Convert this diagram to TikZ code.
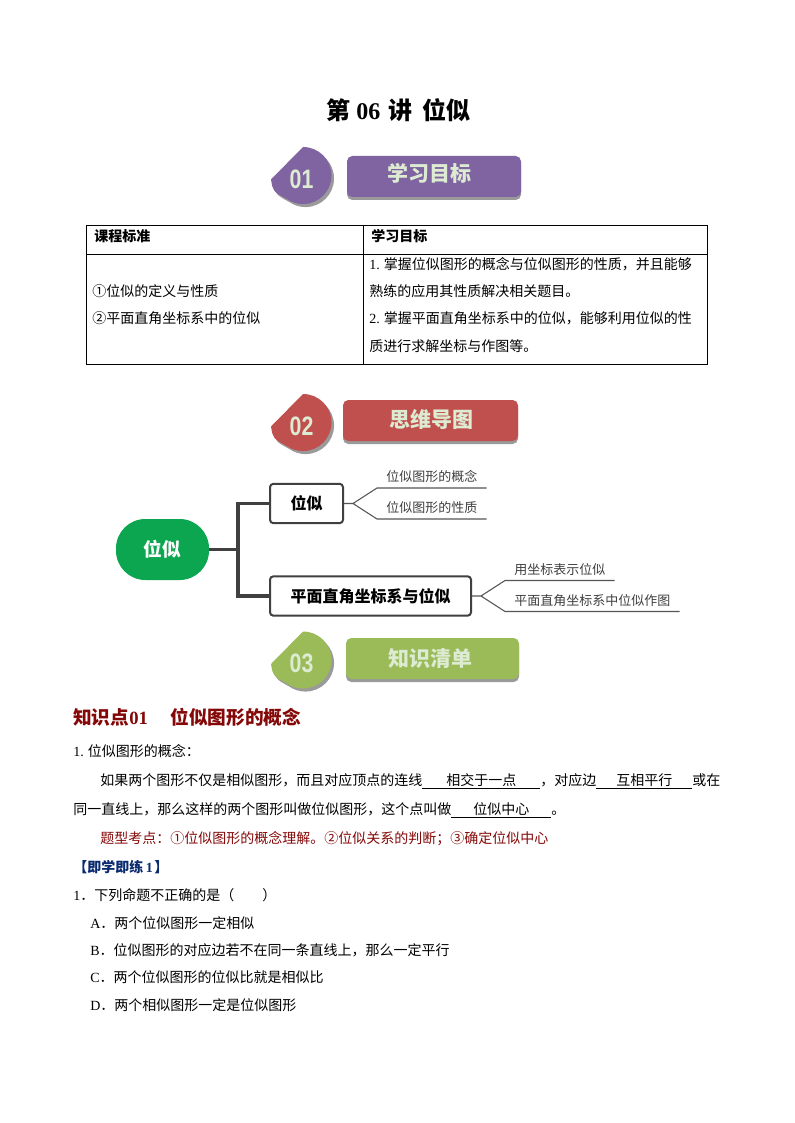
\documentclass[tikz,border=0pt]{standalone}
\usepackage{fontspec}
\setmainfont{Noto Sans CJK SC}
\newfontfamily\latinfont{Liberation Serif}
\newfontfamily\badgefont{Liberation Sans}
\usetikzlibrary{positioning}
\definecolor{purplehead}{HTML}{8064A2}
\definecolor{redhead}{HTML}{C0504D}
\definecolor{greenhead}{HTML}{9BBB59}
\definecolor{headtext}{HTML}{DCEBD2}
\definecolor{shadowgray}{HTML}{9A9A9A}
\definecolor{mapgreen}{HTML}{0CA650}
\definecolor{mapline}{HTML}{404040}
\definecolor{leafline}{HTML}{555555}
\definecolor{darkred}{HTML}{850808}
\definecolor{darkblue}{HTML}{0A2A70}
\newcommand\blankfill[2]{\underline{\makebox[#1]{#2}}}
\newcommand\fsize[1]{\fontsize{#1}{#1}\selectfont}
\tikzset{
	line/.style={anchor=base west,inner sep=0pt,font=\fsize{10.5pt}},
	mapbox/.style={draw=mapline,line width=1.5pt,fill=white,rounded corners=2.5pt,minimum height=29.5pt,inner xsep=13.5pt,font=\fsize{12pt}\bfseries},
	leaf/.style={anchor=south west,inner xsep=6.75pt,inner ysep=3pt,text height=8.5pt,text depth=1.5pt,text=black!75,font=\fsize{9.75pt}},
	trunk/.style={draw=mapline,line width=2.4pt},
	twig/.style={draw=leafline,line width=.8pt},
	badge/.pic={
		\fill (0,-28.5) arc [start angle=90,end angle=-125,radius=21.4pt] .. controls (-30,16) .. (-32,4) -- cycle;
	}
}
\begin{document}
\begin{tikzpicture}[x=.75pt,y=-.75pt]
	\useasboundingbox [fill=white] (0,0) rectangle (794,1123);
	\node [line,font=\fsize{18pt}\bfseries] (title) at (326,120) {第\hspace{4.5pt}{\latinfont 06}\hspace{6pt}讲\hspace{7.5pt}位似};

	\foreach \tag/\col/\cy/\left/\right/\top/\tx/\ty/\words in {
		01/purplehead/175.5/347/521/156/429/173.5/学习目标,
		02/redhead/422.5/343/518/400/431.5/419.5/思维导图,
		03/greenhead/660/346/519/638/430/659/知识清单}
	{
		\pic [shadowgray] at (305.5,\cy+3) {badge};
		\pic [\col] at (303,\cy) {badge};
		\node [inner sep=0pt,text=headtext,font=\badgefont\fsize{20pt}\bfseries] (badge\tag) at (301.5,\cy+3.5) {\scalebox{.8}[1]{\tag}};
		\fill [shadowgray,rounded corners=4pt] (\left,\top+3) rectangle (\right,\top+44);
		\fill [\col,rounded corners=4pt] (\left,\top) rectangle (\right,\top+41);
		\node [inner sep=0pt,text=headtext,font=\fsize{15.75pt}\bfseries] (head\tag) at (\tx,\ty) {\words};
	}

	\draw [line width=.75pt] (86,226) rectangle (707,364) (86,254) -- (707,254) (363,226) -- (363,364);
	\node [line,font=\fsize{10.5pt}\bfseries] (std) at (94,241) {课程标准};
	\node [line,font=\fsize{10.5pt}\bfseries] (goal) at (371,241) {学习目标};
	\node [line] (std1) at (92,296) {①位似的定义与性质};
	\node [line] (std2) at (92,323) {②平面直角坐标系中的位似};
	\node [line] (goal1) at (369,269) {{\latinfont 1.} 掌握位似图形的概念与位似图形的性质，并且能够};
	\node [line] (goal2) at (369,296) {熟练的应用其性质解决相关题目。};
	\node [line] (goal3) at (369,323) {{\latinfont 2.} 掌握平面直角坐标系中的位似，能够利用位似的性};
	\node [line] (goal4) at (369,351) {质进行求解坐标与作图等。};

	\node [fill=mapgreen,rounded corners=22pt,minimum width=69.75pt,minimum height=45.75pt,text=white,font=\fsize{14pt}\bfseries] (root) at (162.5,549.5) {位似};
	\node [mapbox,minimum width=54.75pt] (box1) at (306.5,503.5) {位似};
	\node [mapbox,minimum width=150.75pt] (box2) at (370.5,596) {平面直角坐标系与位似};
	\coordinate (hub) at (238,549.5);
	\path [trunk] (root) -- (hub) (box1.west) -| (hub) (box2.west) -| (hub);

	\coordinate (fork1) at (353,503.5);
	\coordinate (fork2) at (481,596);
	\node [leaf] (leaf1) at (377,488) {位似图形的概念};
	\node [leaf] (leaf2) at (377,519) {位似图形的性质};
	\node [leaf] (leaf3) at (505,580.5) {用坐标表示位似};
	\node [leaf] (leaf4) at (505,611.5) {平面直角坐标系中位似作图};
	\path [twig]
		(box1.east) -- (fork1)
		(fork1) -- (leaf1.south west) -- (leaf1.south east)
		(fork1) -- (leaf2.south west) -- (leaf2.south east)
		(box2.east) -- (fork2)
		(fork2) -- (leaf3.south west) -- (leaf3.south east)
		(fork2) -- (leaf4.south west) -- (leaf4.south east)
		;

	\node [line,text=darkred,font=\fsize{14pt}\bfseries] (point) at (73,724) {知识点{\latinfont 01}\hspace{1.2em}位似图形的概念};
	\node [line] (para0) at (73,756) {{\latinfont 1.} 位似图形的概念：};
	\node [line] (para1) at (100,785) {如果两个图形不仅是相似图形，而且对应顶点的连线\blankfill{88.5pt}{相交于一点}，对应边\blankfill{72pt}{互相平行}或在};
	\node [line] (para2) at (73,814) {同一直线上，那么这样的两个图形叫做位似图形，这个点叫做\blankfill{75pt}{位似中心}。};
	\node [line,text=darkred] (para3) at (100,843) {题型考点：①位似图形的概念理解。②位似关系的判断；③确定位似中心};
	\node [line,text=darkblue,font=\fsize{10.5pt}\bfseries] (drill) at (73,872) {【即学即练\hspace{2pt}{\latinfont 1}\hspace{1pt}】};
	\node [line] (ask) at (73,900) {{\latinfont 1}．下列命题不正确的是（\hspace{2em}）};
	\node [line] (optA) at (90,928) {{\latinfont A}．两个位似图形一定相似};
	\node [line] (optB) at (90,955) {{\latinfont B}．位似图形的对应边若不在同一条直线上，那么一定平行};
	\node [line] (optC) at (90,982) {{\latinfont C}．两个位似图形的位似比就是相似比};
	\node [line] (optD) at (90,1010) {{\latinfont D}．两个相似图形一定是位似图形};
\end{tikzpicture}
\end{document}
